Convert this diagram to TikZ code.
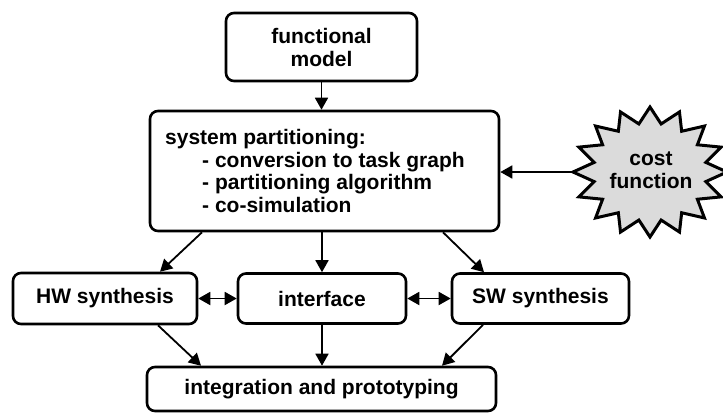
\documentclass[tikz,border=0pt]{standalone}
\usepackage{fontspec}
\setmainfont{Liberation Sans}
\usetikzlibrary{arrows.meta,calc}

\tikzset{
  box/.style={draw, line width=2.6pt, rounded corners=8pt, inner sep=0pt,
    align=center, font=\bfseries\fontsize{21}{23}\selectfont},
  conn/.style={line width=1.8pt, -{Triangle[length=12pt,width=13pt]}},
  biconn/.style={line width=1.8pt, {Triangle[length=12pt,width=13pt]}-{Triangle[length=12pt,width=13pt]}},
  starline/.style={draw, line width=3pt, line join=miter, fill=black!14},
  label/.style={inner sep=0pt, align=center, font=\bfseries\fontsize{21}{23}\selectfont}
}

\begin{document}
\begin{tikzpicture}[x=1pt, y=-1pt]
  \useasboundingbox (0,0) rectangle (723,413);

  % top: functional model
  \node[box, minimum width=191pt, minimum height=68pt] (fm) at (321.5,47) {functional\\model};

  % system partitioning block with left-aligned list
  \node[box, minimum width=349pt, minimum height=120pt] (sys) at (324.5,171) {};
  \node[label, align=left, anchor=west, font=\bfseries\fontsize{21}{22.7}\selectfont] (systext) at (165,171)
    {system partitioning:\\
     \hspace*{37pt}- conversion to task graph\\
     \hspace*{37pt}- partitioning algorithm\\
     \hspace*{37pt}- co-simulation};

  % synthesis row
  \node[box, minimum width=184pt, minimum height=51pt] (hw) at (105,298.5) {HW synthesis};
  \node[box, minimum width=168pt, minimum height=50pt] (if) at (322,298.5) {interface};
  \node[box, minimum width=177pt, minimum height=50pt] (sw) at (540.5,298.5) {SW synthesis};

  % bottom: integration
  \node[box, minimum width=349pt, minimum height=44pt] (integ) at (321.5,389) {integration and prototyping};

  % cost function star (16 points)
  \path[starline] (727,172)
    \foreach \i in {1,...,31}{
      -- ({650+ifthenelse(mod(\i,2)==0,77,57)*cos(\i*11.25)},
          {172+ifthenelse(mod(\i,2)==0,65,49)*sin(\i*11.25)})
    } -- cycle;
  \node[label] (cost) at (651,170) {cost\\function};
  \coordinate (costtip) at (573,172);

  % connectors
  \draw[conn] (fm.south) -- (fm.south |- sys.north);
  \draw[conn] (costtip) -- (sys.east |- costtip);
  \draw[conn] ([xshift=-122.5pt]sys.south) -- ([xshift=55pt]hw.north);
  \draw[conn] (sys.south -| if.north) -- (if.north);
  \draw[conn] ([xshift=118.5pt]sys.south) -- ([xshift=-56.5pt]sw.north);
  \draw[biconn] (hw.east) -- (if.west);
  \draw[biconn] (if.east) -- (sw.west);
  \draw[conn] ([xshift=53pt]hw.south) -- ([xshift=-120.5pt]integ.north);
  \draw[conn] (if.south) -- (if.south |- integ.north);
  \draw[conn] ([xshift=-57.5pt]sw.south) -- ([xshift=120.5pt]integ.north);
\end{tikzpicture}
\end{document}
